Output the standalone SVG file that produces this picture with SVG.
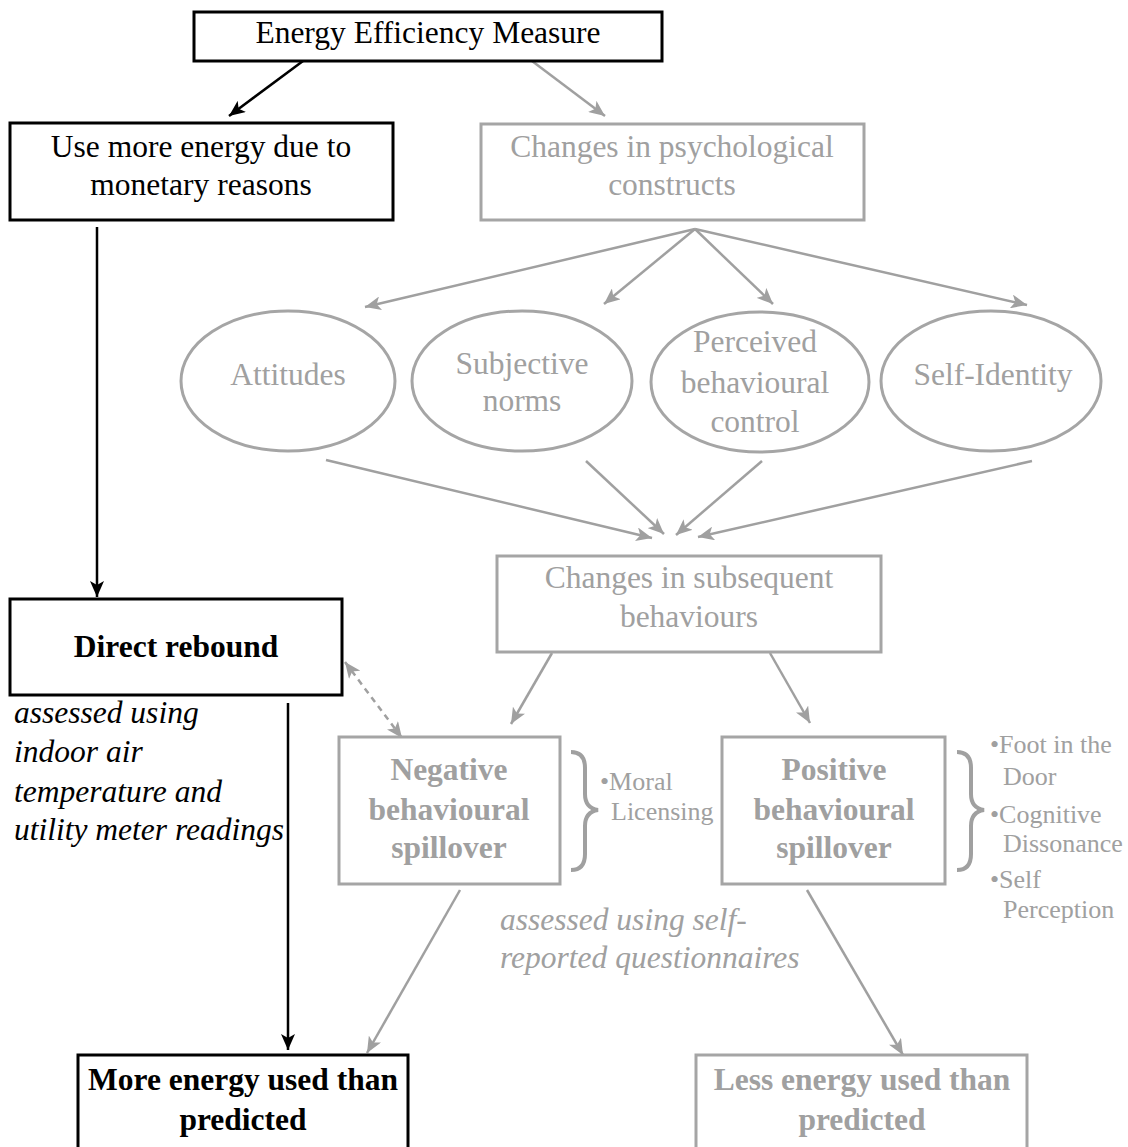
<svg xmlns="http://www.w3.org/2000/svg" width="1128" height="1147" viewBox="0 0 1128 1147">
<style>
text{font-family:"Liberation Serif","Times New Roman",serif;font-size:31.5px;text-anchor:middle}
.k{fill:#000}
.g{fill:#a0a0a0}
.b{font-weight:bold}
.i{font-style:italic}
.s{font-size:26px;text-anchor:start}
.l{text-anchor:start}
.bk{fill:#fff;stroke:#000;stroke-width:3}
.bg{fill:#fff;stroke:#a5a5a5;stroke-width:3}
.ck{fill:none;stroke:#000;stroke-width:2.5}
.cg{fill:none;stroke:#a0a0a0;stroke-width:2.5}
</style>
<defs>
<marker id="ak" markerUnits="userSpaceOnUse" markerWidth="18" markerHeight="14" refX="16" refY="7" orient="auto"><path d="M0,0 L16,7 L0,14 L4,7 z" fill="#000"/></marker>
<marker id="ag" markerUnits="userSpaceOnUse" markerWidth="18" markerHeight="14" refX="16" refY="7" orient="auto-start-reverse"><path d="M0,0 L16,7 L0,14 L4,7 z" fill="#a0a0a0"/></marker>
</defs>
<g id="connectors">
<line class="ck" x1="303" y1="61" x2="229" y2="116" marker-end="url(#ak)"/>
<line class="cg" x1="532" y1="61" x2="605" y2="116" marker-end="url(#ag)"/>
<line class="ck" x1="97" y1="227" x2="97" y2="597" marker-end="url(#ak)"/>
<line class="cg" x1="695" y1="229" x2="365" y2="307" marker-end="url(#ag)"/>
<line class="cg" x1="695" y1="229" x2="604" y2="304" marker-end="url(#ag)"/>
<line class="cg" x1="695" y1="229" x2="773" y2="304" marker-end="url(#ag)"/>
<line class="cg" x1="695" y1="229" x2="1027" y2="305" marker-end="url(#ag)"/>
<line class="cg" x1="326" y1="460" x2="652" y2="538" marker-end="url(#ag)"/>
<line class="cg" x1="586" y1="461" x2="664" y2="534" marker-end="url(#ag)"/>
<line class="cg" x1="762" y1="461" x2="676" y2="535" marker-end="url(#ag)"/>
<line class="cg" x1="1032" y1="461" x2="698" y2="537" marker-end="url(#ag)"/>
<line class="cg" x1="552" y1="653" x2="511" y2="724" marker-end="url(#ag)"/>
<line class="cg" x1="770" y1="653" x2="810" y2="723" marker-end="url(#ag)"/>
<line class="cg" x1="345" y1="662" x2="402" y2="738" stroke-dasharray="6,5" marker-start="url(#ag)" marker-end="url(#ag)"/>
<line class="ck" x1="288" y1="703" x2="288" y2="1050" marker-end="url(#ak)"/>
<line class="cg" x1="460" y1="890" x2="367" y2="1053" marker-end="url(#ag)"/>
<line class="cg" x1="807" y1="890" x2="903" y2="1055" marker-end="url(#ag)"/>
</g>
<g id="eem"><rect class="bk" x="194" y="12" width="468" height="49"/><text class="k" x="428" y="43">Energy Efficiency Measure</text></g>
<g id="monetary"><rect class="bk" x="10" y="123" width="383" height="97"/><text class="k" x="201" y="157">Use more energy due to</text><text class="k" x="201" y="195">monetary reasons</text></g>
<g id="psych"><rect class="bg" x="481" y="124" width="383" height="96"/><text class="g" x="672" y="157">Changes in psychological</text><text class="g" x="672" y="195">constructs</text></g>
<g id="attitudes"><ellipse class="bg" cx="288" cy="381" rx="107" ry="70"/><text class="g" x="288" y="385">Attitudes</text></g>
<g id="subjective"><ellipse class="bg" cx="522" cy="381" rx="110" ry="70"/><text class="g" x="522" y="374">Subjective</text><text class="g" x="522" y="411">norms</text></g>
<g id="perceived"><ellipse class="bg" cx="760" cy="382" rx="109" ry="70"/><text class="g" x="755" y="352">Perceived</text><text class="g" x="755" y="393">behavioural</text><text class="g" x="755" y="432">control</text></g>
<g id="selfidentity"><ellipse class="bg" cx="991" cy="381" rx="110" ry="70"/><text class="g" x="993" y="385">Self-Identity</text></g>
<g id="subsequent"><rect class="bg" x="497" y="556" width="384" height="96"/><text class="g" x="689" y="588">Changes in subsequent</text><text class="g" x="689" y="627">behaviours</text></g>
<g id="direct"><rect class="bk" x="10" y="599" width="332" height="96"/><text class="k b" x="176" y="657">Direct rebound</text>
<text class="k i l" x="14" y="723">assessed using</text><text class="k i l" x="14" y="762">indoor air</text><text class="k i l" x="14" y="802">temperature and</text><text class="k i l" x="14" y="840">utility meter readings</text></g>
<g id="negative"><rect class="bg" x="339" y="737" width="221" height="147"/><text class="g b" x="449" y="780">Negative</text><text class="g b" x="449" y="820">behavioural</text><text class="g b" x="449" y="858">spillover</text>
<path d="M571,752 Q585,752 585,768 L585,794 Q585,808 598,810 Q585,812 585,826 L585,854 Q585,870 571,870" fill="none" stroke="#a0a0a0" stroke-width="4"/>
<text class="g s" x="600" y="790">•Moral</text><text class="g s" x="611" y="820">Licensing</text></g>
<g id="positive"><rect class="bg" x="722" y="737" width="223" height="147"/><text class="g b" x="834" y="780">Positive</text><text class="g b" x="834" y="820">behavioural</text><text class="g b" x="834" y="858">spillover</text>
<path d="M957,752 Q971,752 971,768 L971,794 Q971,808 984,810 Q971,812 971,826 L971,854 Q971,870 957,870" fill="none" stroke="#a0a0a0" stroke-width="4"/>
<text class="g s" x="990" y="753">•Foot in the</text><text class="g s" x="1003" y="785">Door</text><text class="g s" x="990" y="823">•Cognitive</text><text class="g s" x="1003" y="852">Dissonance</text><text class="g s" x="990" y="888">•Self</text><text class="g s" x="1003" y="918">Perception</text></g>
<g id="selfreport"><text class="g i l" x="500" y="930">assessed using self-</text><text class="g i l" x="500" y="968">reported questionnaires</text></g>
<g id="more"><rect class="bk" x="78" y="1055" width="330" height="110"/><text class="k b" x="243" y="1090">More energy used than</text><text class="k b" x="243" y="1130">predicted</text></g>
<g id="less"><rect class="bg" x="696" y="1055" width="331" height="110"/><text class="g b" x="862" y="1090">Less energy used than</text><text class="g b" x="862" y="1130">predicted</text></g>
</svg>
